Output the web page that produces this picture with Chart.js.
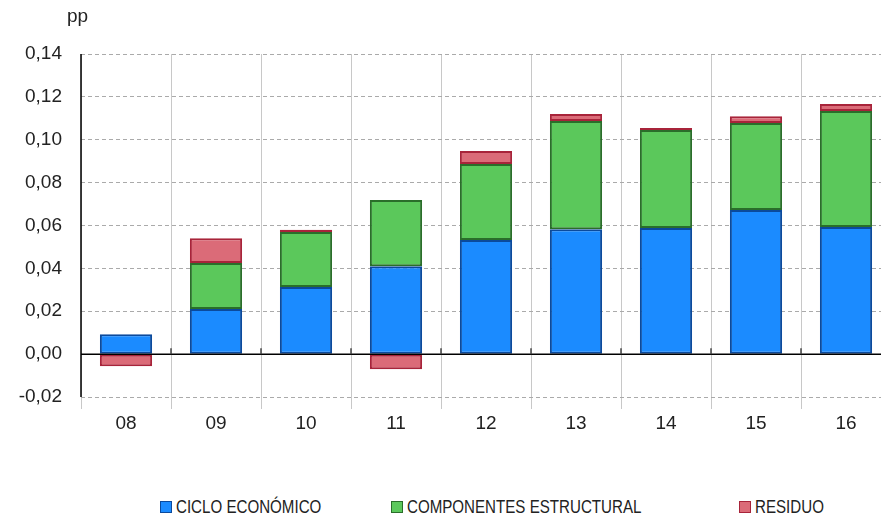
<!DOCTYPE html>
<html>
<head>
<meta charset="utf-8">
<script src="https://cdn.jsdelivr.net/npm/chart.js@4/dist/chart.umd.min.js"></script>
<style>
  html, body { margin: 0; padding: 0; background: #fff; }
  body { width: 881px; height: 514px; overflow: hidden; position: relative; }
  #wrap { position: absolute; left: 0; top: 0; width: 900px; height: 440px; }
  .leyenda { position: absolute; top: 496px; font-family: "Liberation Sans Narrow", "Liberation Sans", sans-serif; font-size: 18px; color: #222; white-space: nowrap; line-height: 22px; }
  .leyenda i { display: inline-block; width: 10px; height: 10px; border: 1.5px solid; margin-right: 4px; vertical-align: 0px; }
  .leyenda span { display: inline-block; transform: scaleX(0.84); transform-origin: left center; }
</style>
</head>
<body>
<div id="wrap"><canvas id="grafico"></canvas></div>
<div class="leyenda" style="left:160px"><i style="background:#1b8bff;border-color:#0b4a9c"></i><span>CICLO ECONÓMICO</span></div>
<div class="leyenda" style="left:391px"><i style="background:#5bc85b;border-color:#2a6e2a"></i><span>COMPONENTES ESTRUCTURAL</span></div>
<div class="leyenda" style="left:739px"><i style="background:#db6b78;border-color:#a8243a"></i><span>RESIDUO</span></div>
<script>
// Datos (pp)
const categorias = ['08', '09', '10', '11', '12', '13', '14', '15', '16'];
const cicloEconomico = [0.0093, 0.0210, 0.0313, 0.0410, 0.0532, 0.0583, 0.0588, 0.0672, 0.0593];
const componentesEstructural = [0.0000, 0.0215, 0.0257, 0.0309, 0.0355, 0.0504, 0.0457, 0.0406, 0.0541];
const residuo = [-0.0056, 0.0115, 0.0010, -0.0070, 0.0060, 0.0033, 0.0010, 0.0032, 0.0033];
const ticksY = [-0.02, 0.00, 0.02, 0.04, 0.06, 0.08, 0.10, 0.12, 0.14];

const fuente = '"Liberation Sans", Arial, sans-serif';

// Eje izquierdo, linea del cero, marcas cortas y etiqueta "pp"
const extras = {
    id: 'extras',
    afterDatasetsDraw(chart) {
        const { ctx, chartArea, scales } = chart;
        const y0 = scales.y.getPixelForValue(0);
        ctx.save();
        ctx.strokeStyle = '#000';
        ctx.lineWidth = 1.5;
        ctx.beginPath();
        ctx.moveTo(chartArea.left, chartArea.top);
        ctx.lineTo(chartArea.left, chartArea.bottom);
        ctx.moveTo(chartArea.left, y0);
        ctx.lineTo(chartArea.right, y0);
        ctx.stroke();

        ctx.strokeStyle = '#444';
        const paso = (scales.x.getPixelForValue(1) - scales.x.getPixelForValue(0));
        for (let i = 1; i < categorias.length; i++) {
            const x = scales.x.getPixelForValue(i) - paso / 2;
            ctx.beginPath();
            ctx.moveTo(x, y0 - 6);
            ctx.lineTo(x, y0);
            ctx.stroke();
        }

        ctx.fillStyle = '#222';
        ctx.font = '19px ' + fuente;
        ctx.textAlign = 'left';
        ctx.textBaseline = 'middle';
        ctx.fillText('pp', 67, 17);
        ctx.restore();
    }
};

const serie = (label, data, fondo, borde) => ({
    label,
    data,
    backgroundColor: fondo,
    borderColor: borde,
    borderWidth: 2,
    borderSkipped: false,
    barPercentage: 0.58,
    categoryPercentage: 1.0
});

new Chart(document.getElementById('grafico'), {
    type: 'bar',
    data: {
        labels: categorias,
        datasets: [
            serie('CICLO ECONÓMICO', cicloEconomico, '#1b8bff', '#0b4a9c'),
            serie('COMPONENTES ESTRUCTURAL', componentesEstructural, '#5bc85b', '#2a6e2a'),
            serie('RESIDUO', residuo, '#db6b78', '#a8243a')
        ]
    },
    options: {
        responsive: true,
        maintainAspectRatio: false,
        animation: false,
        layout: { padding: { top: 54, left: 0, right: 9, bottom: 0 } },
        plugins: {
            legend: { display: false },
            tooltip: { enabled: false }
        },
        scales: {
            x: {
                stacked: true,
                offset: true,
                grid: {
                    offset: true,
                    color: '#c8c8c8',
                    lineWidth: 1,
                    drawTicks: true,
                    tickLength: 12
                },
                border: { display: false },
                ticks: {
                    color: '#222',
                    font: { family: fuente, size: 19 },
                    padding: 3
                },
                afterFit(scale) { scale.height = 43; }
            },
            y: {
                stacked: true,
                min: -0.02,
                max: 0.14,
                afterBuildTicks(scale) {
                    scale.ticks = ticksY.map(v => ({ value: v }));
                },
                grid: {
                    color: '#aaaaaa',
                    lineWidth: 1,
                    drawTicks: false
                },
                border: { display: false, dash: [4, 3] },
                ticks: {
                    color: '#222',
                    font: { family: fuente, size: 19 },
                    padding: 19,
                    callback: (v) => v.toFixed(2).replace('.', ',')
                },
                afterFit(scale) { scale.width = 81; }
            }
        }
    },
    plugins: [extras]
});
</script>
</body>
</html>
